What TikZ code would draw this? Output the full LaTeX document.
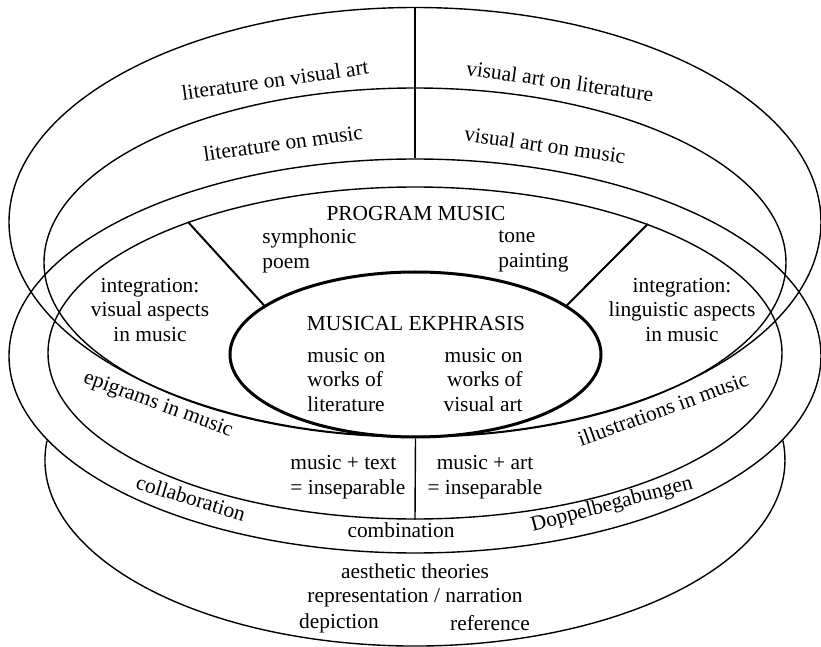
\documentclass[tikz,border=0pt]{standalone}
\usepackage{fontspec}
\setmainfont{Liberation Serif}
\usetikzlibrary{shapes.geometric}

\begin{document}
\begin{tikzpicture}[
    x=0.5pt, y=-0.5pt,
    % --- STYLES ---
    ring/.style 2 args={
            draw,
            ellipse,
            inner sep=0pt,
            line width=0.7pt,
            minimum width=#1,
            minimum height=#2
        },
    core/.style={
            draw,
            ellipse,
            inner sep=0pt,
            line width=1.5pt,
            minimum width=185.5pt,
            minimum height=82.5pt
        },
    divider/.style={
            line width=0.7pt
        },
    spoke/.style={
            line width=1pt
        },
    lbl/.style={
            inner sep=0pt,
            align=center,
            font=\fontsize{10.7}{12.3}\selectfont
        }
    ]

    \useasboundingbox (0,0) rectangle (821,647);

    % --- ELLIPSES ---
    % upper pair
    \node[ring={406pt}{214.5pt}] (outerUp) at (415,222) {};
    \node[ring={371pt}{174.5pt}] (innerUp) at (415,262.5) {};
    % lower pair
    \node[ring={406pt}{197pt}] (outerLow) at (415,356) {};
    \node[ring={367pt}{166pt}] (innerLow) at (415,353) {};
    % centre
    \node[core] (ekph) at (415.5,354.5) {};
    % bottom shell, only the part below outerLow
    \coordinate (shellL) at (47,440.6);
    \draw[divider] (shellL) arc[start angle=186, end angle=-6, x radius=370, y radius=186];

    % --- DIVIDING LINES ---
    \draw[divider] (outerUp.north) -- (outerLow.north);
    \draw[divider] (ekph.south) -- (innerLow.south);
    \draw[spoke] (innerLow.150) -- (ekph.162);
    \draw[spoke] (innerLow.29) -- (ekph.18);

    % --- UPPER BANDS ---
    \node[lbl, rotate=8] (litVis) at (275,80) {literature on visual art};
    \node[lbl, rotate=-8] (visLit) at (560,81) {visual art on literature};
    \node[lbl, rotate=8] (litMus) at (283,143) {literature on music};
    \node[lbl, rotate=-8] (visMus) at (545,145) {visual art on music};

    % --- PROGRAM MUSIC ---
    \node[lbl] (program) at (416,214) {PROGRAM MUSIC};
    \node[lbl, align=left, anchor=west] (symph) at (262,251) {symphonic\\poem};
    \node[lbl, align=left, anchor=west] (tone) at (498,251) {tone\\painting};
    \node[lbl] (integVis) at (150,310) {integration:\\visual aspects\\in music};
    \node[lbl] (integLing) at (682,310) {integration:\\linguistic aspects\\in music};

    % --- MUSICAL EKPHRASIS ---
    \node[lbl] (ekphTitle) at (416,324) {MUSICAL EKPHRASIS};
    \node[lbl, align=left, anchor=west] (ekphLit) at (307,380) {music on\\works of\\literature};
    \node[lbl, align=right, anchor=east] (ekphArt) at (523,380) {music on\\works of\\visual art};

    % --- LOWER BANDS ---
    \node[lbl, rotate=-20] (epigrams) at (158,405) {epigrams in music};
    \node[lbl, rotate=20] (illus) at (663,409) {illustrations in music};
    \node[lbl, align=left, anchor=west] (musText) at (290,477) {music + text\\= inseparable};
    \node[lbl] (musArt) at (485,477) {music + art\\= inseparable};
    \node[lbl, rotate=-17] (collab) at (191,498) {collaboration};
    \node[lbl] (combi) at (401,530) {combination};
    \node[lbl, rotate=15] (doppel) at (612,505) {Doppelbegabungen};

    % --- BOTTOM SHELL ---
    \node[lbl] (theories) at (415,585.5) {aesthetic theories\\representation / narration};
    \node[lbl] (depict) at (339,623) {depiction};
    \node[lbl] (refer) at (490,623) {reference};

\end{tikzpicture}
\end{document}
